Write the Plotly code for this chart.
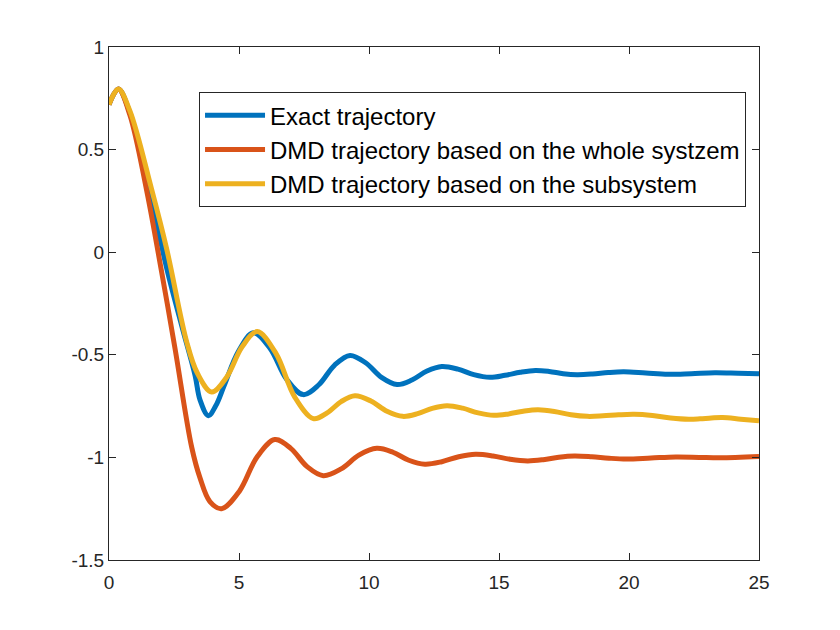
import plotly.graph_objects as go

# values (time, response)
t_exact = [0, 0.36, 0.8, 1.55, 2.26, 2.8, 3.31, 3.5, 3.82, 4.1, 4.43, 4.97, 5.55, 6.19, 6.83,
           7.47, 8.07, 8.67, 9.27, 9.87, 10.48, 11.08, 11.65, 12.23, 12.8, 13.42, 14.03, 14.65,
           15.23, 15.82, 16.4, 16.93, 17.47, 18.0, 18.6, 19.2, 19.8, 20.65, 21.5, 22.4, 23.3,
           24.2, 25]
y_exact = [0.72, 0.795, 0.68, 0.30, -0.10, -0.36, -0.60, -0.72, -0.797, -0.75, -0.65, -0.485,
           -0.393, -0.468, -0.619, -0.694, -0.646, -0.551, -0.503, -0.539, -0.610, -0.645,
           -0.623, -0.579, -0.557, -0.570, -0.597, -0.610, -0.600, -0.585, -0.576, -0.581,
           -0.592, -0.597, -0.5935, -0.5865, -0.583, -0.589, -0.595, -0.592, -0.588, -0.590,
           -0.592]

t_whole = [0, 0.36, 0.8, 1.45, 2.03, 2.54, 3.18, 3.5, 3.88, 4.33, 5.01, 5.70, 6.38, 7.0, 7.62,
           8.24, 8.93, 9.61, 10.3, 10.92, 11.53, 12.15, 12.8, 13.45, 14.1, 14.77, 15.43, 16.1,
           16.7, 17.3, 17.9, 18.57, 19.23, 19.9, 20.85, 21.8, 22.7, 23.5, 25]
y_whole = [0.72, 0.795, 0.67, 0.30, -0.10, -0.47, -0.95, -1.10, -1.215, -1.25, -1.166, -0.997,
           -0.913, -0.957, -1.045, -1.089, -1.056, -0.989, -0.956, -0.975, -1.014, -1.033,
           -1.021, -0.997, -0.985, -0.993, -1.009, -1.017, -1.011, -0.999, -0.993, -0.997,
           -1.004, -1.008, -1.003, -0.998, -1.0, -1.002, -0.996]

t_sub = [0, 0.36, 0.8, 1.64, 2.22, 2.99, 3.4, 3.95, 4.53, 5.12, 5.7, 6.42, 7.14, 7.86, 8.39,
         8.93, 9.46, 10.07, 10.69, 11.3, 11.87, 12.43, 13.0, 13.6, 14.2, 14.8, 15.37, 15.93,
         16.5, 17.13, 17.77, 18.4, 19.0, 19.6, 20.2, 20.9, 21.6, 22.3, 22.73, 23.17, 23.6,
         24.3, 25]
y_sub = [0.72, 0.795, 0.69, 0.306, 0.015, -0.438, -0.59, -0.681, -0.608, -0.461, -0.387,
         -0.493, -0.705, -0.811, -0.783, -0.728, -0.70, -0.725, -0.775, -0.80, -0.787, -0.761,
         -0.748, -0.760, -0.783, -0.795, -0.788, -0.775, -0.768, -0.776, -0.792, -0.80,
         -0.7975, -0.7925, -0.79, -0.796, -0.808, -0.814, -0.812, -0.808, -0.806, -0.814,
         -0.822]

series = [
    ("Exact trajectory", t_exact, y_exact, "#0072BD"),
    ("DMD trajectory based on the whole systzem", t_whole, y_whole, "#D95319"),
    ("DMD trajectory based on the subsystem", t_sub, y_sub, "#EDB120"),
]

fig = go.Figure()
for name, t, y, col in series:
    fig.add_trace(go.Scatter(
        x=t, y=y, mode="lines", name=name,
        line=dict(color=col, width=5, shape="spline", smoothing=1.0),
    ))

axis_style = dict(
    showgrid=False, zeroline=False, showline=True, mirror="ticks",
    linecolor="#262626", linewidth=1, ticks="inside", ticklen=7,
    tickcolor="#262626", tickfont=dict(family="Arial, Liberation Sans", size=19, color="#262626"),
)

# page body has an 8px margin, so the figure is a little smaller than the window
fig.update_layout(
    width=832, height=622,
    margin=dict(l=101, r=81, t=39, b=70),
    paper_bgcolor="white", plot_bgcolor="white",
    font=dict(family="Arial, Liberation Sans", color="#000000"),
    xaxis=dict(range=[0, 25], tickvals=[0, 5, 10, 15, 20, 25], ticklabelstandoff=5,
               **axis_style),
    yaxis=dict(range=[-1.5, 1], tickvals=[-1.5, -1, -0.5, 0, 0.5, 1],
               ticktext=["-1.5", "-1", "-0.5", "0", "0.5", "1"], **axis_style),
    legend=dict(
        x=0.1385, y=0.912, xanchor="left", yanchor="top",
        bgcolor="white", bordercolor="#262626", borderwidth=1,
        font=dict(family="Arial, Liberation Sans", size=24, color="#000000"),
        itemwidth=60, tracegroupgap=0,
    ),
)

fig.write_html("out.html")
